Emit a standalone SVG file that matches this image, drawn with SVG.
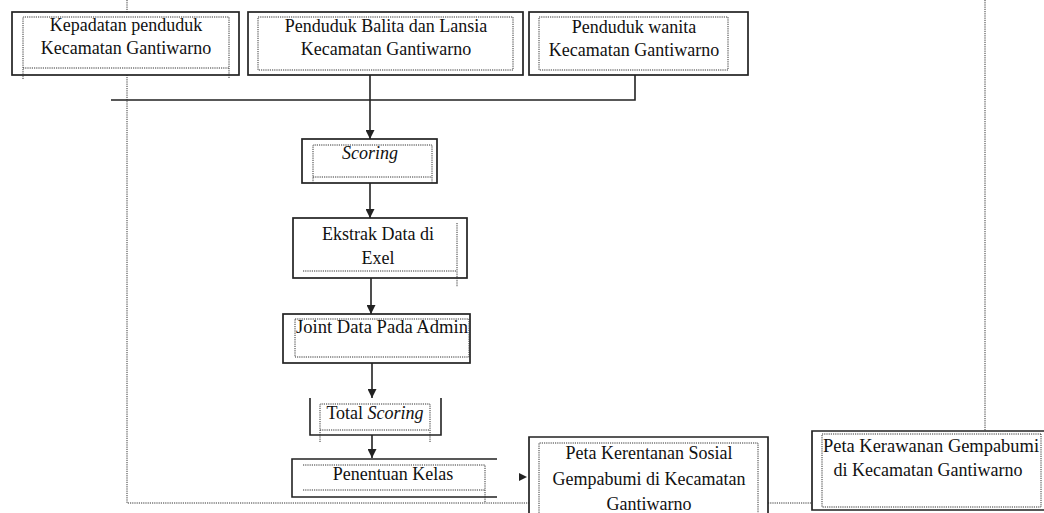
<svg xmlns="http://www.w3.org/2000/svg" width="1044" height="513" viewBox="0 0 1044 513">
<defs>
<marker id="ah" markerWidth="9" markerHeight="9" refX="9" refY="4.5" orient="auto" markerUnits="userSpaceOnUse"><path d="M0,0 L9,4.5 L0,9 z" fill="#222"/></marker>
</defs>
<style>
.box{fill:#fff;stroke:#222;stroke-width:1.7}
.ln{fill:none;stroke:#222;stroke-width:1.6}
.dot{fill:none;stroke:#333;stroke-width:1;stroke-dasharray:1.2 1}
.t{font-family:"Liberation Serif","Times New Roman",serif;font-size:18px;fill:#111;text-anchor:middle}
.i{font-style:italic}
</style>
<rect width="1044" height="513" fill="#fff"/>
<g id="frame">
<path class="dot" d="M127,0 V503 H812"/>
<path class="dot" d="M985,0 V431"/>
</g>
<g id="connectors">
<path class="ln" d="M111,100 H635 V75"/>
<path class="ln" d="M370,75 V139" marker-end="url(#ah)"/>
<path class="ln" d="M370,183 V218" marker-end="url(#ah)"/>
<path class="ln" d="M371,278 V314" marker-end="url(#ah)"/>
<path class="ln" d="M372,363 V398" marker-end="url(#ah)"/>
<path class="ln" d="M372,435 V458" marker-end="url(#ah)"/>
<path d="M519,473 L527,477 L519,481 z" fill="#222"/>
</g>
<g id="n1">
<rect class="box" x="12" y="12" width="227" height="63"/>
<path class="dot" d="M23,79 V17 H229 V79 M23,68 H229"/>
<text class="t" x="126" y="31">Kepadatan penduduk</text>
<text class="t" x="126" y="54">Kecamatan Gantiwarno</text>
</g>
<g id="n2">
<rect class="box" x="248" y="12" width="275" height="63"/>
<rect class="dot" x="258" y="17" width="255" height="53"/>
<text class="t" x="386" y="32">Penduduk Balita dan Lansia</text>
<text class="t" x="386" y="55">Kecamatan Gantiwarno</text>
</g>
<g id="n3">
<rect class="box" x="529" y="12" width="219" height="63"/>
<rect class="dot" x="539" y="17" width="189" height="53"/>
<text class="t" x="634" y="33">Penduduk wanita</text>
<text class="t" x="634" y="56">Kecamatan Gantiwarno</text>
</g>
<g id="n4">
<rect class="box" x="302" y="139" width="135" height="44"/>
<path class="dot" d="M313,183 V145 H432 V183 M313,177 H432"/>
<text class="t i" x="370" y="159">Scoring</text>
</g>
<g id="n5">
<rect class="box" x="293" y="218" width="174" height="60"/>
<path class="dot" d="M457,223 V287 M303,271 H457"/>
<text class="t" x="378" y="240">Ekstrak Data di</text>
<text class="t" x="378" y="264">Exel</text>
</g>
<g id="n6">
<rect class="box" x="283" y="314" width="187" height="49"/>
<rect class="dot" x="295" y="319" width="174" height="38"/>
<text class="t" x="382" y="333" textLength="172" lengthAdjust="spacingAndGlyphs">Joint Data Pada Admin</text>
</g>
<g id="n7">
<path class="ln" d="M310,398 V435 H441 V398"/>
<path class="dot" d="M320,442 V404 H430 V442 M320,430 H430"/>
<text class="t" x="375" y="419">Total <tspan class="i">Scoring</tspan></text>
</g>
<g id="n8">
<path class="ln" d="M497,459 H292 V497 H497"/>
<path class="dot" d="M303,465 H485 V502 M303,490 H485"/>
<text class="t" x="393" y="480">Penentuan Kelas</text>
</g>
<g id="n9">
<path class="box" d="M529,515 V437 H768 V515"/>
<path class="dot" d="M539,515 V443 H758 V515"/>
<text class="t" x="649" y="459">Peta Kerentanan Sosial</text>
<text class="t" x="649" y="485">Gempabumi  di Kecamatan</text>
<text class="t" x="649" y="510">Gantiwarno</text>
</g>
<g id="n10">
<path class="box" d="M1046,431 H812 V510 H1046"/>
<path class="dot" d="M1041,434 H822 V507 H1041 Z"/>
<text class="t" x="931" y="452" textLength="216" lengthAdjust="spacingAndGlyphs">Peta Kerawanan Gempabumi</text>
<text class="t" x="928" y="476">di Kecamatan Gantiwarno</text>
</g>
</svg>
